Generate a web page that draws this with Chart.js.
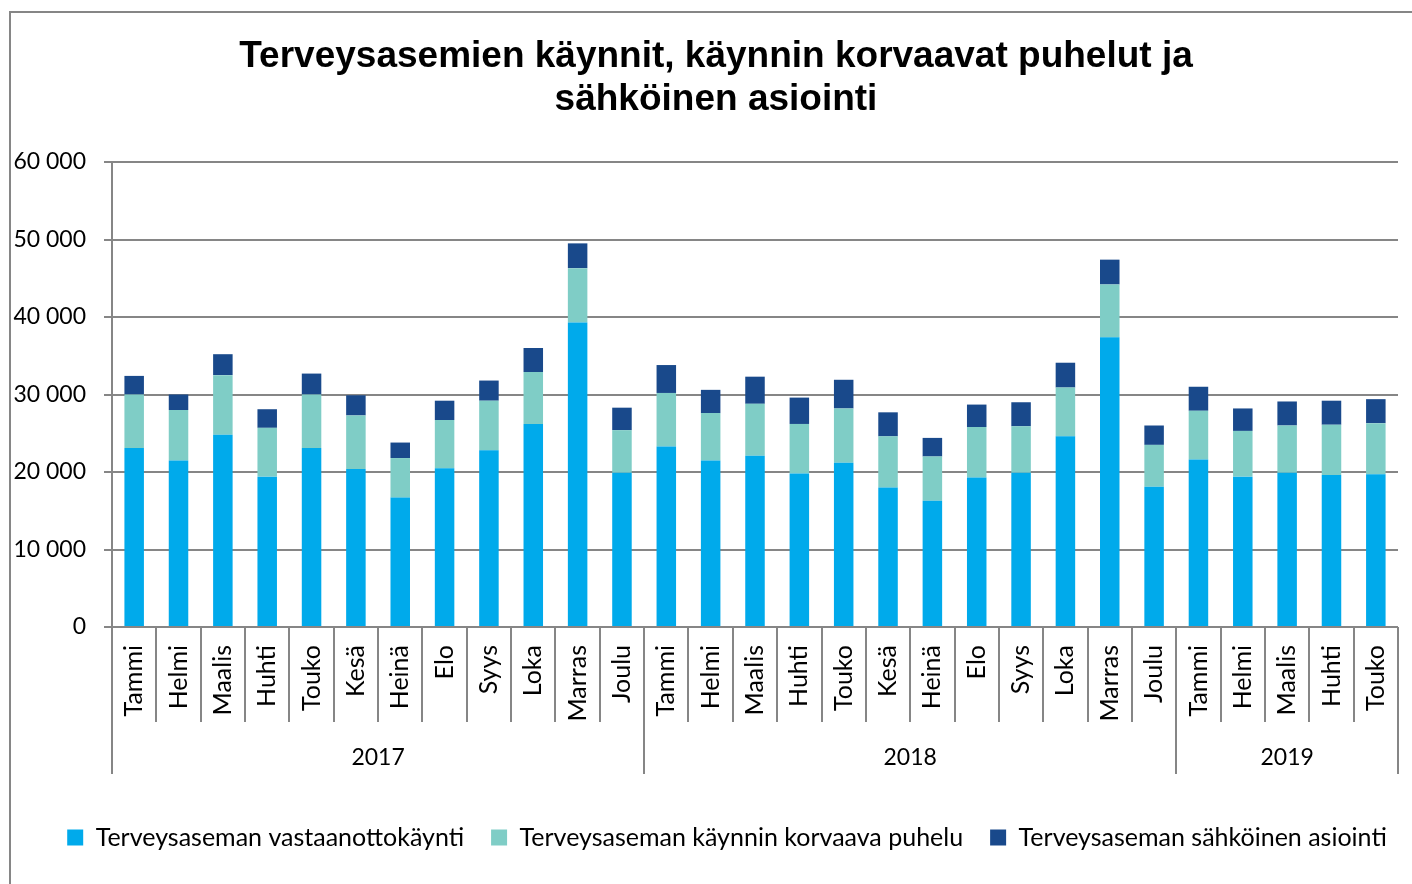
<!DOCTYPE html>
<html lang="fi">
<head>
<meta charset="utf-8">
<title>Terveysasemien käynnit</title>
<script src="https://cdn.jsdelivr.net/npm/chart.js@4/dist/chart.umd.min.js"></script>
<style>
  html, body { margin: 0; padding: 0; background: #fff; }
  #wrap { width: 1412px; height: 884px; position: relative; }
</style>
</head>
<body>
<div id="wrap"><canvas id="chart"></canvas></div>
<script>
'use strict';

// ── Data ──────────────────────────────────────────────────────────────────────
const months = [
  'Tammi', 'Helmi', 'Maalis', 'Huhti', 'Touko', 'Kesä', 'Heinä', 'Elo', 'Syys', 'Loka', 'Marras', 'Joulu',
  'Tammi', 'Helmi', 'Maalis', 'Huhti', 'Touko', 'Kesä', 'Heinä', 'Elo', 'Syys', 'Loka', 'Marras', 'Joulu',
  'Tammi', 'Helmi', 'Maalis', 'Huhti', 'Touko',
];
const years      = ['2017', '2018', '2019'];
const yearCounts = [12, 12, 5];

const visits = [
  23100, 21500, 24800, 19400, 23100, 20400, 16700, 20500, 22800, 26200, 39300, 19900,
  23300, 21500, 22100, 19800, 21200, 18000, 16300, 19300, 19900, 24600, 37400, 18100,
  21600, 19400, 19900, 19600, 19700,
];
const calls = [
  6900, 6500, 7700, 6300, 6900, 6900, 5100, 6200, 6400, 6700, 7000, 5500,
  6900, 6100, 6700, 6400, 7000, 6600, 5700, 6500, 6000, 6300, 6800, 5400,
  6300, 5900, 6100, 6500, 6600,
];
const eServices = [
  2400, 2000, 2700, 2400, 2700, 2600, 2000, 2500, 2600, 3100, 3200, 2900,
  3600, 3000, 3500, 3400, 3700, 3100, 2400, 2900, 3100, 3200, 3200, 2500,
  3100, 2900, 3100, 3100, 3100,
];

const seriesNames = [
  'Terveysaseman vastaanottokäynti',
  'Terveysaseman käynnin korvaava puhelu',
  'Terveysaseman sähköinen asiointi',
];
const titleLines = ['Terveysasemien käynnit, käynnin korvaavat puhelut ja', 'sähköinen asiointi'];
const yTicks = [0, 10000, 20000, 30000, 40000, 50000, 60000];

// ── Styles ────────────────────────────────────────────────────────────────────
const FONT   = 'Lato, "Open Sans", sans-serif';
const LINE   = '#868686';
const COLORS = ['#00aaeb', '#7fcdc6', '#19498b'];

function fmt(v) {
  return String(v).replace(/\B(?=(\d{3})+(?!\d))/g, ' ');
}

// ── Plugin: frame, category dividers and year labels ─────────────────────────
const groupAxis = {
  id: 'groupAxis',
  beforeDraw(chart) {
    const ctx = chart.ctx;
    ctx.save();
    ctx.strokeStyle = LINE;
    ctx.lineWidth = 2;
    ctx.beginPath();
    ctx.moveTo(10, chart.height + 2);
    ctx.lineTo(10, 12);
    ctx.lineTo(chart.width + 2, 12);
    ctx.stroke();
    ctx.restore();
  },
  afterLayout(chart) {
    // nudge title and legend sideways to where the original puts them
    chart.titleBlock.left += 12;
    chart.titleBlock.right += 12;
    chart.legend.left += 23;
    chart.legend.right += 23;
  },
  afterDraw(chart) {
    const ctx = chart.ctx;
    const x = chart.scales.x;
    const base = chart.chartArea.bottom;
    const shortEnd = base + 95;
    const longEnd = base + 147;

    // year boundaries
    const starts = [0];
    yearCounts.forEach((c, i) => starts.push(starts[i] + c));

    ctx.save();
    ctx.strokeStyle = LINE;
    ctx.lineWidth = 2;
    for (let i = 0; i <= months.length; i++) {
      const px = Math.round(x.getPixelForValue(i - 0.5));
      const end = starts.includes(i) ? longEnd : shortEnd;
      ctx.beginPath();
      ctx.moveTo(px, base);
      ctx.lineTo(px, end);
      ctx.stroke();
    }

    ctx.fillStyle = '#000';
    ctx.font = '23px ' + FONT;
    ctx.textAlign = 'center';
    ctx.textBaseline = 'middle';
    years.forEach((y, i) => {
      const a = x.getPixelForValue(starts[i] - 0.5);
      const b = x.getPixelForValue(starts[i + 1] - 0.5);
      ctx.fillText(y, (a + b) / 2, base + 131);
    });
    ctx.restore();
  },
};

// ── Chart ─────────────────────────────────────────────────────────────────────
const values = [visits, calls, eServices];

new Chart(document.getElementById('chart'), {
  type: 'bar',
  data: {
    labels: months,
    datasets: seriesNames.map((name, i) => ({
      label: name,
      data: values[i],
      backgroundColor: COLORS[i],
      borderWidth: 0,
      barPercentage: 0.44,
      categoryPercentage: 1,
    })),
  },
  options: {
    responsive: true,
    maintainAspectRatio: false,
    animation: false,
    layout: { padding: { left: 10, right: 14, top: 0, bottom: 24 } },
    plugins: {
      title: {
        display: true,
        text: titleLines,
        color: '#000',
        font: { family: '"Liberation Sans", Arial, sans-serif', size: 37, weight: 'bold', lineHeight: 43 / 37 },
        padding: { top: 35, bottom: 41 },
      },
      legend: {
        position: 'bottom',
        labels: {
          color: '#000',
          font: { family: FONT, size: 25 },
          boxWidth: 16,
          boxHeight: 16,
          padding: 27,
        },
      },
      tooltip: { enabled: false },
    },
    scales: {
      x: {
        stacked: true,
        grid: { display: false, drawTicks: false },
        border: { display: false },
        ticks: {
          color: '#000',
          font: { family: FONT, size: 25 },
          minRotation: 90,
          maxRotation: 90,
          autoSkip: false,
          padding: 18,
        },
        afterFit(scale) {
          scale.height = 171;
          scale.paddingLeft = 0;
          scale.paddingRight = 0;
        },
      },
      y: {
        stacked: true,
        min: 0,
        max: 60000,
        afterBuildTicks(scale) { scale.ticks = yTicks.map(v => ({ value: v })); },
        grid: { color: LINE, lineWidth: 2, tickLength: 8 },
        border: { display: true, color: LINE, width: 2 },
        ticks: {
          color: '#000',
          font: { family: FONT, size: 23 },
          padding: 18,
          callback: v => fmt(v),
        },
        afterFit(scale) { scale.width = 102; },
      },
    },
  },
  plugins: [groupAxis],
});
</script>
</body>
</html>
